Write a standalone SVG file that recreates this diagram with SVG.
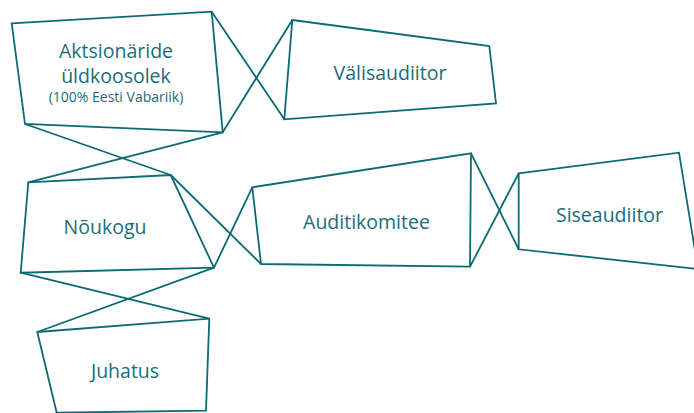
<svg xmlns="http://www.w3.org/2000/svg" width="694" height="413" viewBox="0 0 694 413">
<style>
.box{fill:#ffffff;stroke:#0b6a73;stroke-width:1.8;stroke-linejoin:miter}
.ln{fill:none;stroke:#0b6a73;stroke-width:1.8}
.t{font-family:"Open Sans","Liberation Sans",sans-serif;fill:#1a6d77;text-anchor:middle;font-size:19.5px}
.s{font-size:14px}
</style>
<rect width="694" height="413" fill="#ffffff"/>
<g id="connectors">
<line class="ln" x1="25" y1="124" x2="170.7" y2="175"/>
<line class="ln" x1="222.7" y1="132.3" x2="28.3" y2="182.3"/>
<line class="ln" x1="211.7" y1="11.7" x2="284.3" y2="119.3"/>
<line class="ln" x1="222.7" y1="132.3" x2="292.3" y2="20"/>
<line class="ln" x1="20.7" y1="272.7" x2="209.3" y2="318.7"/>
<line class="ln" x1="214" y1="267.7" x2="37.3" y2="332"/>
<line class="ln" x1="170.7" y1="175" x2="261" y2="264"/>
<line class="ln" x1="214" y1="267.7" x2="252.3" y2="187.3"/>
<line class="ln" x1="471" y1="153.3" x2="518.7" y2="249.3"/>
<line class="ln" x1="470" y1="266.7" x2="518.7" y2="173.3"/>
</g>
<g id="aktsionaride">
<polygon class="box" points="11.7,23.3 211.7,11.7 222.7,132.3 25,124"/>
<text class="t" x="116" y="58" font-size="21">Aktsionäride</text>
<text class="t" x="116" y="83" font-size="21">üldkoosolek</text>
<text class="t s" x="116" y="102">(100% Eesti Vabariik)</text>
</g>
<g id="valisaudiitor">
<polygon class="box" points="292.3,20 489.3,46 496,103.3 284.3,119.3"/>
<text class="t" x="390" y="80">Välisaudiitor</text>
</g>
<g id="noukogu">
<polygon class="box" points="28.3,182.3 170.7,175 214,267.7 20.7,272.7"/>
<text class="t" x="105" y="234">Nõukogu</text>
</g>
<g id="juhatus">
<polygon class="box" points="37.3,332 209.3,318.7 206,410.7 56.7,412.7"/>
<text class="t" x="125" y="378">Juhatus</text>
</g>
<g id="auditikomitee">
<polygon class="box" points="252.3,187.3 471,153.3 470,266.7 261,264"/>
<text class="t" x="366.5" y="229">Auditikomitee</text>
</g>
<g id="siseaudiitor">
<polygon class="box" points="518.7,173.3 679,152.7 698,269 518.7,249.3"/>
<text class="t" x="609.5" y="222">Siseaudiitor</text>
</g>
</svg>
